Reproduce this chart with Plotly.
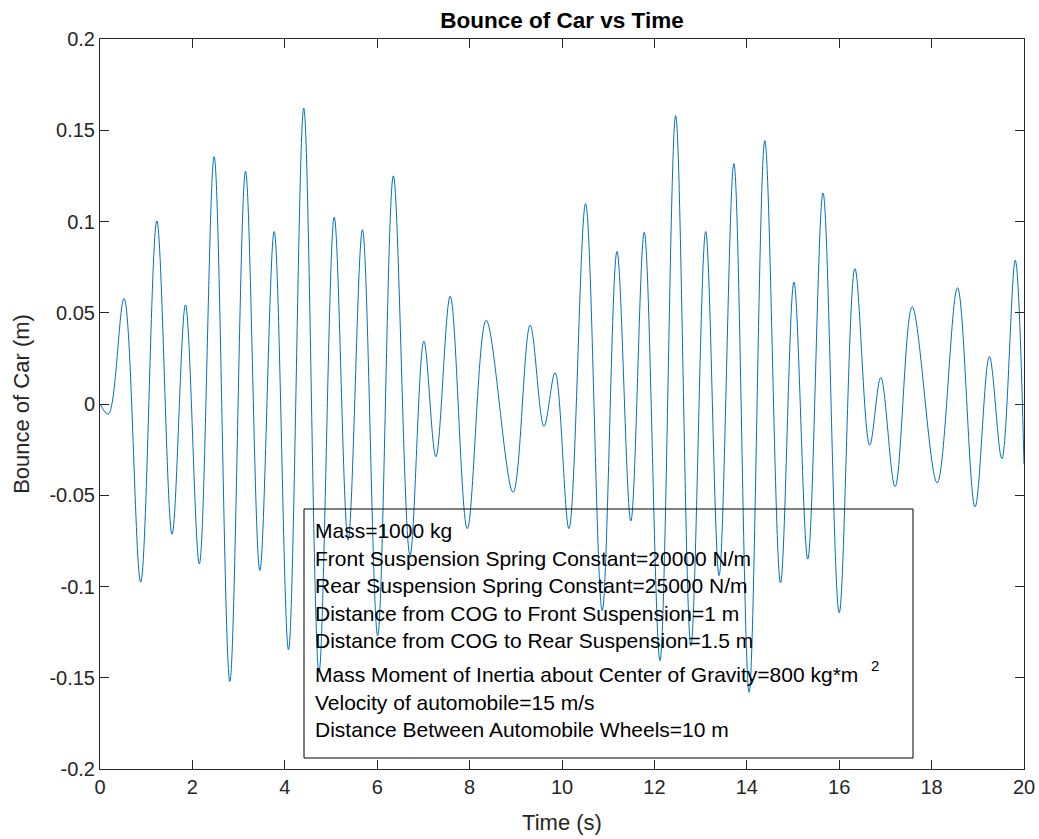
import plotly.graph_objects as go

# Extrema of the bounce signal (time in s, bounce in m)
time_s = [0, 0.18, 0.52, 0.88, 1.23, 1.56, 1.85, 2.15, 2.47, 2.81,
          3.15, 3.46, 3.77, 4.08, 4.41, 4.74, 5.07, 5.37, 5.68, 6.01,
          6.35, 6.71, 7.01, 7.27, 7.58, 7.95, 8.36, 8.94, 9.31, 9.61,
          9.85, 10.15, 10.51, 10.87, 11.19, 11.49, 11.78, 12.12, 12.46, 12.79,
          13.11, 13.40, 13.72, 14.05, 14.39, 14.73, 15.02, 15.32, 15.65, 16.00,
          16.34, 16.66, 16.90, 17.21, 17.58, 18.12, 18.56, 18.94, 19.25, 19.52,
          19.81, 20.0]
bounce_m = [0, -0.0055, 0.0578, -0.0976, 0.1003, -0.0714, 0.0543, -0.0876, 0.1355, -0.152,
            0.1276, -0.0913, 0.0945, -0.1347, 0.1622, -0.147, 0.1024, -0.0746, 0.0955, -0.127,
            0.125, -0.083, 0.0344, -0.0289, 0.0591, -0.0683, 0.0459, -0.0484, 0.0432, -0.0122,
            0.0172, -0.0683, 0.1098, -0.1133, 0.0836, -0.0641, 0.0941, -0.1406, 0.158, -0.1326,
            0.0945, -0.0941, 0.1318, -0.158, 0.1443, -0.098, 0.0668, -0.085, 0.1156, -0.1144,
            0.0742, -0.0226, 0.0145, -0.0453, 0.0532, -0.0432, 0.0637, -0.0564, 0.026, -0.030,
            0.0788, -0.033]

x_tickvals = [0, 2, 4, 6, 8, 10, 12, 14, 16, 18, 20]
y_tickvals = [-0.2, -0.15, -0.1, -0.05, 0, 0.05, 0.1, 0.15, 0.2]
y_ticktext = ["-0.2", "-0.15", "-0.1", "-0.05", "0", "0.05", "0.1", "0.15", "0.2"]

info_lines = [
    "Mass=1000 kg",
    "Front Suspension Spring Constant=20000 N/m",
    "Rear Suspension Spring Constant=25000 N/m",
    "Distance from COG to Front Suspension=1 m",
    "Distance from COG to Rear Suspension=1.5 m",
    "Mass Moment of Inertia about Center of Gravity=800 kg*m",
    "Velocity of automobile=15 m/s",
    "Distance Between Automobile Wheels=10 m",
]
superscript_text = "2"

W, H = 1039, 839
L, R, T, B = 100, 15, 39, 70
PW, PH = W - L - R, H - T - B

FONT = "Liberation Sans, Arial, Helvetica, sans-serif"
AXC = "#262626"

fig = go.Figure()
fig.add_trace(go.Scatter(
    x=time_s, y=bounce_m, mode="lines",
    line=dict(color="#0072BD", width=1, shape="spline", smoothing=1.0),
    showlegend=False, hoverinfo="skip",
))

def px_x(p):
    return (p - L) / PW

def px_y(p):
    return (H - B - p) / PH

# Text box
fig.add_shape(type="rect", xref="paper", yref="paper",
              x0=px_x(304), x1=px_x(913), y0=px_y(758), y1=px_y(509),
              line=dict(color="black", width=1), fillcolor="rgba(0,0,0,0)")

line_centers = [530, 558, 585, 613, 640, 674, 702, 729]
for txt, cy in zip(info_lines, line_centers):
    fig.add_annotation(text=txt, xref="paper", yref="paper",
                       x=px_x(313), y=px_y(cy), xanchor="left", yanchor="middle",
                       showarrow=False, font=dict(family=FONT, size=21, color="black"))

fig.add_annotation(text=superscript_text, xref="paper", yref="paper",
                   x=px_x(869), y=px_y(665), xanchor="left", yanchor="middle",
                   showarrow=False, font=dict(family=FONT, size=15, color="black"))

axis_common = dict(
    showline=True, linecolor=AXC, linewidth=1, mirror="ticks",
    ticks="inside", ticklen=9, tickcolor=AXC, tickwidth=1,
    showgrid=False, zeroline=False,
    tickfont=dict(family=FONT, size=20, color=AXC),
)

fig.update_layout(
    width=W, height=H,
    margin=dict(l=L, r=R, t=T, b=B, autoexpand=False),
    paper_bgcolor="white", plot_bgcolor="white",
    title=dict(text="<b>Bounce of Car vs Time</b>", x=(L + PW / 2) / W, xanchor="center",
               y=1 - 20 / H, yanchor="middle",
               font=dict(family=FONT, size=22.5, color="black")),
    xaxis=dict(range=[0, 20], tickvals=x_tickvals, ticktext=[str(v) for v in x_tickvals],
               title=dict(text="Time (s)", font=dict(family=FONT, size=22, color=AXC), standoff=17),
               **axis_common),
    yaxis=dict(range=[-0.2, 0.2], tickvals=y_tickvals, ticktext=y_ticktext,
               title=dict(text="Bounce of Car (m)", font=dict(family=FONT, size=22, color=AXC), standoff=13),
               **axis_common),
)

fig.write_html("out.html")
